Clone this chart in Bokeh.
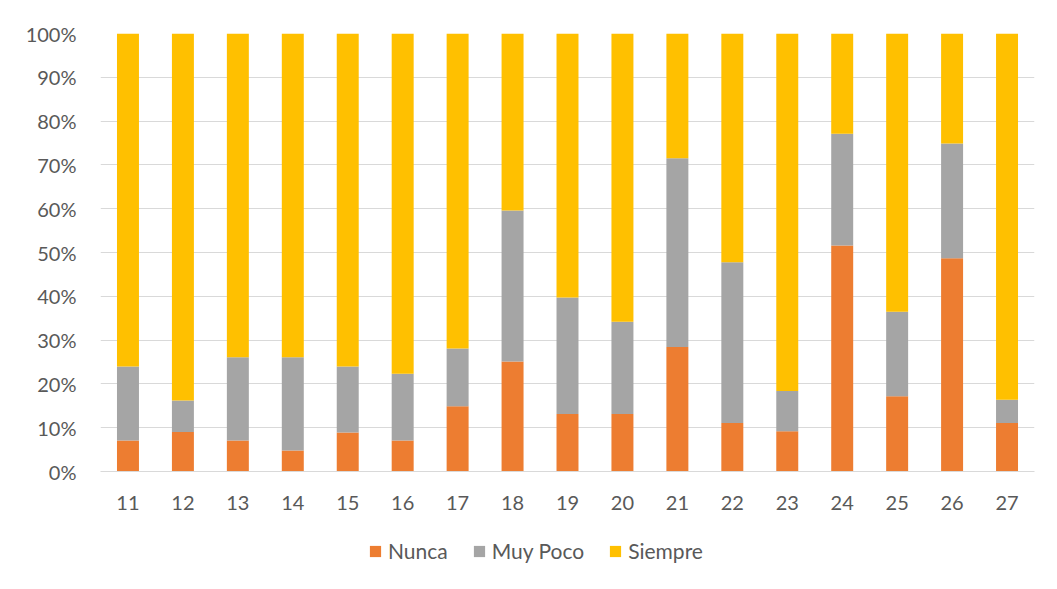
from bokeh.plotting import figure
from bokeh.layouts import column
from bokeh.models import ColumnDataSource, Legend, LegendItem, NumeralTickFormatter, FixedTicker, Range1d, FactorRange
from bokeh.embed import file_html
from bokeh.resources import INLINE

categories = ["11", "12", "13", "14", "15", "16", "17", "18", "19", "20", "21", "22", "23", "24", "25", "26", "27"]
nunca = [7.1, 9.0, 7.1, 4.8, 8.9, 7.1, 14.9, 25.1, 13.1, 13.1, 28.4, 11.1, 9.2, 51.6, 17.2, 48.7, 11.1]
muy_poco = [16.9, 7.2, 19.0, 21.3, 15.1, 15.2, 13.2, 34.5, 26.6, 21.1, 43.1, 36.7, 9.2, 25.5, 19.3, 26.2, 5.3]
siempre = [round(100 - a - b, 1) for a, b in zip(nunca, muy_poco)]

series_names = ["Nunca", "Muy Poco", "Siempre"]
colors = ["#ED7D31", "#A5A5A5", "#FFC000"]

src = ColumnDataSource(dict(
    cat=categories,
    Nunca=[v / 100 for v in nunca],
    MuyPoco=[v / 100 for v in muy_poco],
    Siempre=[v / 100 for v in siempre],
))
stack_cols = ["Nunca", "MuyPoco", "Siempre"]

FONT = "Lato"
TXT = "#595959"
W = 1050

p = figure(x_range=categories, y_range=(0, 1), width=W, height=520,
           output_backend="svg", toolbar_location=None,
           min_border_left=100, min_border_right=16, min_border_top=33, min_border_bottom=49)
p.outline_line_color = None

r = p.vbar_stack(stack_cols, x="cat", width=0.4, source=src,
                 color=colors, line_color=None)

p.x_range.range_padding = 0
p.yaxis.ticker = FixedTicker(ticks=[i / 10 for i in range(11)])
p.yaxis.formatter = NumeralTickFormatter(format="0%")

for ax in (p.xaxis[0], p.yaxis[0]):
    ax.major_tick_line_color = None
    ax.minor_tick_line_color = None
    ax.major_label_text_font = FONT
    ax.major_label_text_font_size = "20px"
    ax.major_label_text_color = TXT
p.yaxis.axis_line_color = None
p.xaxis.axis_line_color = "#D9D9D9"
p.yaxis.major_label_standoff = 18
p.xaxis.major_label_standoff = 18

p.xgrid.grid_line_color = None
p.ygrid.grid_line_color = "#D9D9D9"
p.ygrid.grid_line_width = 1

# legend in a separate strip below the chart (same series, out of view)
lf = figure(width=W, height=62, output_backend="svg", toolbar_location=None,
            x_range=FactorRange(factors=categories), y_range=Range1d(5, 6),
            min_border_left=100, min_border_right=16, min_border_top=0, min_border_bottom=0)
lf.axis.visible = False
lf.grid.visible = False
lf.outline_line_color = None
lr = lf.vbar_stack(stack_cols, x="cat", width=0.4, source=src, color=colors, line_color=None)
items = [LegendItem(label=n, renderers=[rr]) for n, rr in zip(series_names, lr)]
legend = Legend(items=items, orientation="horizontal", location=(268, 19),
                label_text_font=FONT, label_text_font_size="21px", label_text_color=TXT,
                glyph_width=14, glyph_height=14, label_standoff=6, spacing=24,
                padding=0, margin=0, border_line_color=None, background_fill_alpha=0)
lf.add_layout(legend, "center")

layout = column(p, lf, spacing=0)
open("out.html", "w").write(file_html(layout, INLINE))
